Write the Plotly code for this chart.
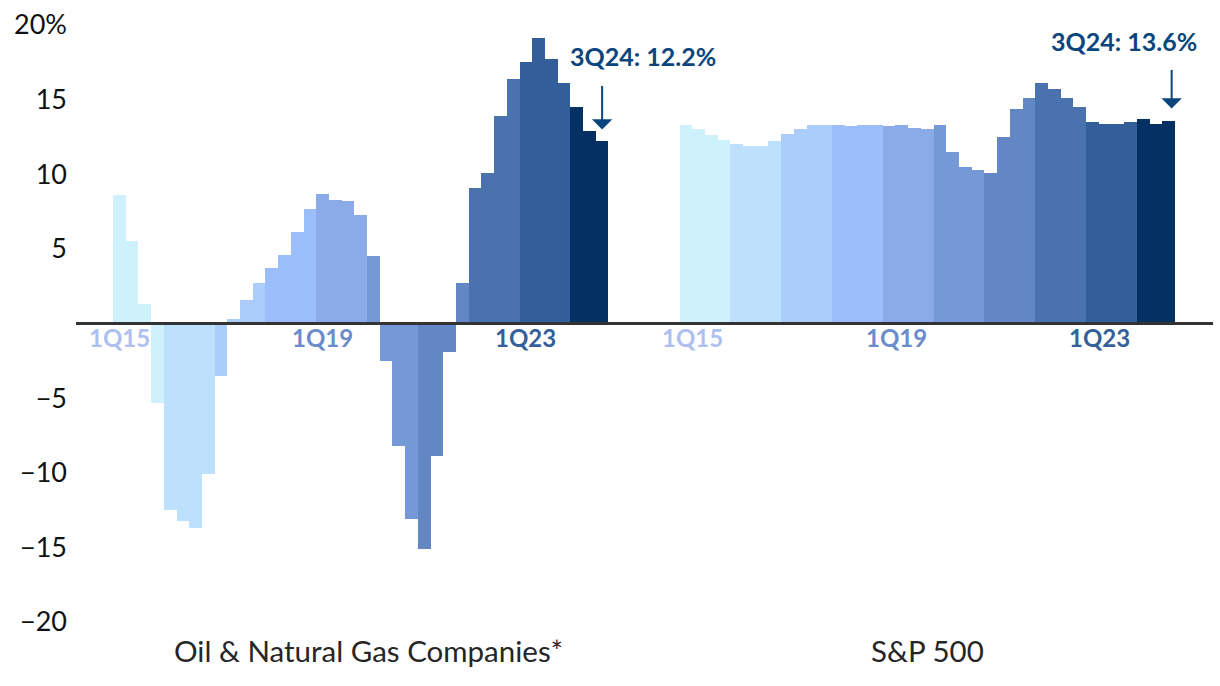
import plotly.graph_objects as go

# ---------------- data ----------------
years = [2015, 2016, 2017, 2018, 2019, 2020, 2021, 2022, 2023, 2024]
quarters_per_year = [4, 4, 4, 4, 4, 4, 4, 4, 4, 3]
quarter_labels = [f"{q}Q{str(y)[2:]}" for y, n in zip(years, quarters_per_year) for q in range(1, n + 1)]

oil_gas_margin = [
    8.6, 5.5, 1.3, -5.3,
    -12.5, -13.2, -13.7, -10.1,
    -3.5, 0.3, 1.6, 2.7,
    3.7, 4.6, 6.1, 7.7,
    8.7, 8.3, 8.2, 7.3,
    4.5, -2.5, -8.2, -13.1,
    -15.1, -8.9, -1.9, 2.7,
    9.1, 10.1, 13.9, 16.4,
    17.5, 19.1, 17.7, 16.1,
    14.5, 12.9, 12.2,
]
sp500_margin = [
    13.3, 13.0, 12.6, 12.3,
    12.0, 11.9, 11.9, 12.2,
    12.7, 13.0, 13.3, 13.3,
    13.3, 13.2, 13.3, 13.3,
    13.2, 13.3, 13.1, 13.0,
    13.3, 11.5, 10.5, 10.3,
    10.1, 12.5, 14.4, 15.1,
    16.1, 15.7, 15.1, 14.5,
    13.5, 13.4, 13.4, 13.5,
    13.7, 13.4, 13.6,
]
group_names = ["Oil & Natural Gas Companies*", "S&P 500"]
year_colors = ["#CFF0FD", "#BDE0FC", "#ABCDFD", "#9BBDF9", "#8AABE8",
               "#7598D6", "#6386C5", "#4A72AF", "#335E99", "#053063"]
marker_labels = ["1Q15", "1Q19", "1Q23"]
marker_label_colors = ["#AEC0F0", "#6A8CCB", "#355F9A"]
y_ticks = [-20, -15, -10, -5, 5, 10, 15, 20]
y_tick_text = ["\u221220", "\u221215", "\u221210", "\u22125", "5", "10", "15", "20%"]

# ---------------- layout helpers ----------------
bar_colors = [c for c, n in zip(year_colors, quarters_per_year) for _ in range(n)]
n = len(quarter_labels)
GAP = 5.59
left_x = list(range(n))
right_start = n - 1 + 1 + GAP
right_x = [right_start + i for i in range(n)]
FONT = "Lato"
NOTE_COLOR = "#0B457D"

fig = go.Figure()
for xs, vals, name in [(left_x, oil_gas_margin, group_names[0]), (right_x, sp500_margin, group_names[1])]:
    fig.add_trace(go.Bar(
        x=xs, y=vals, width=1.0, name=name,
        marker=dict(color=bar_colors, line=dict(width=0)),
        showlegend=False, hoverinfo="skip",
    ))

annotations = []
# quarter labels beneath axis
for lab, col in zip(marker_labels, marker_label_colors):
    idx = quarter_labels.index(lab)
    for xs, shift in [(left_x, 0), (right_x, 7)]:
        annotations.append(dict(
            x=xs[idx], y=-0.95, xref="x", yref="y", text=f"<b>{lab}</b>",
            showarrow=False, xshift=shift,
            font=dict(family=FONT, size=24, color=col),
            xanchor="center", yanchor="middle",
        ))

# group names
annotations.append(dict(x=(left_x[0] + left_x[-1]) / 2, y=-0.048, xref="x", yref="paper",
                        text=group_names[0], showarrow=False, xshift=8,
                        font=dict(family=FONT, size=29.5, color="#262626"),
                        xanchor="center", yanchor="middle"))
annotations.append(dict(x=(right_x[0] + right_x[-1]) / 2, y=-0.048, xref="x", yref="paper",
                        text=group_names[1], showarrow=False,
                        font=dict(family=FONT, size=29.5, color="#262626"),
                        xanchor="center", yanchor="middle"))

# latest-quarter callouts
for xs, vals, tx, ty, ay, xsh in [(left_x, oil_gas_margin, 41.2, 17.93, -57, 0),
                                  (right_x, sp500_margin, 79.1, 18.93, -52, 3)]:
    last = vals[-1]
    annotations.append(dict(
        x=xs[-1], y=last, xref="x", yref="y", text="", showarrow=True,
        ax=0, ay=ay, arrowhead=1, arrowsize=1.7, arrowwidth=2,
        arrowcolor=NOTE_COLOR, standoff=12, xshift=xsh,
    ))
    annotations.append(dict(
        x=tx, y=ty, xref="x", yref="y",
        text=f"<b>{quarter_labels[-1]}: {last:.1f}%</b>", showarrow=False,
        font=dict(family=FONT, size=25, color=NOTE_COLOR),
        xanchor="center", yanchor="middle",
    ))

fig.update_layout(
    width=1220, height=686,
    margin=dict(l=76, r=7, t=22, b=64),
    paper_bgcolor="white", plot_bgcolor="white",
    barmode="overlay", bargap=0,
    annotations=annotations,
    shapes=[dict(type="line", xref="paper", yref="y", x0=0, x1=1, y0=0, y1=0,
                 line=dict(color="#333333", width=3), layer="above")],
    font=dict(family=FONT),
)
fig.update_xaxes(range=[-3.41, right_x[-1] + 0.5 + 2.99], showgrid=False, zeroline=False,
                 showticklabels=False, showline=False)
fig.update_yaxes(range=[-20, 20], tickvals=y_ticks, ticktext=y_tick_text,
                 showgrid=False, zeroline=False, showline=False, ticks="",
                 tickfont=dict(family=FONT, size=27, color="#111111"),
                 ticklabelstandoff=8)

fig.write_html("out.html")
